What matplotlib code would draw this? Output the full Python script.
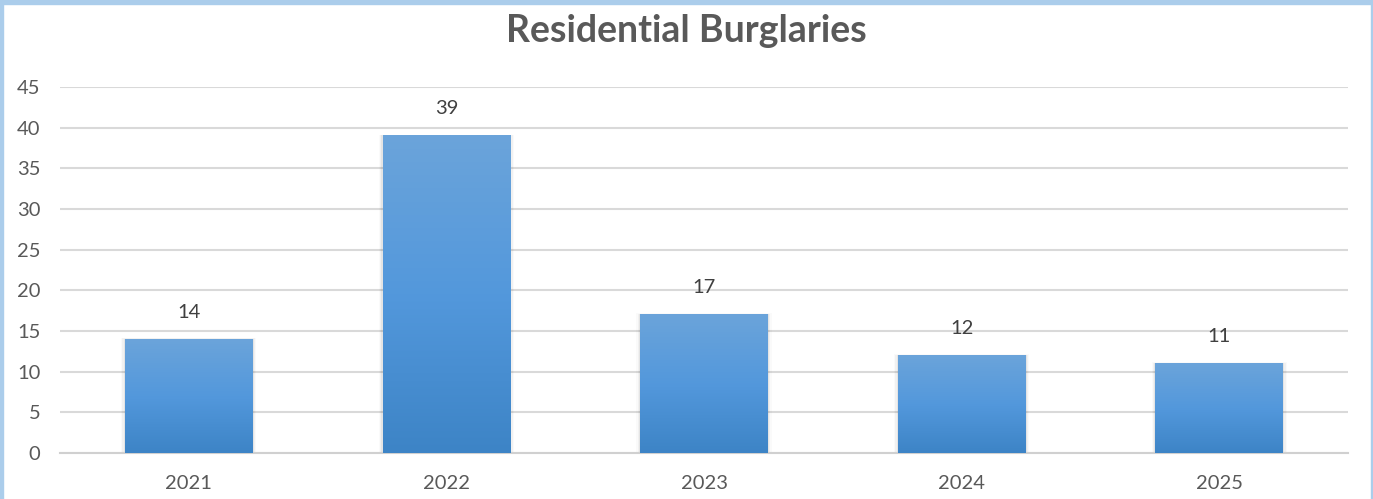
import matplotlib
matplotlib.use('Agg')
import matplotlib.pyplot as plt
import numpy as np
from matplotlib.patches import Rectangle
from matplotlib.colors import LinearSegmentedColormap

years = ['2021', '2022', '2023', '2024', '2025']
burglaries = [14, 39, 17, 12, 11]
yticks = [0, 5, 10, 15, 20, 25, 30, 35, 40, 45]

plt.rcParams['font.family'] = ['Lato', 'DejaVu Sans']

fig = plt.figure(figsize=(13.73, 4.99), dpi=100)
ax = fig.add_axes([0.0437, 0.0922, 0.9381, 0.7335])

# bars with vertical gradient like the excel default style
cmap = LinearSegmentedColormap.from_list('bar', ['#3d84c6', '#5398dc', '#6ba4da'])
grad = np.linspace(0, 1, 256).reshape(-1, 1)
width = 0.495
x = np.arange(len(years))
for xi, v in zip(x, burglaries):
    # soft shadow around the bar
    for k, a in enumerate([0.05, 0.035, 0.02]):
        d = 0.005 * (k + 1)
        ax.add_patch(Rectangle((xi - width / 2 - d, 0), width + 2 * d, v + d * 10,
                               facecolor='black', alpha=a, edgecolor='none', zorder=2))
    ax.imshow(grad, extent=[xi - width / 2, xi + width / 2, 0, v], origin='lower',
              aspect='auto', cmap=cmap, zorder=3)
    ax.annotate(str(v), (xi, v), xytext=(0, 19.5), textcoords='offset points',
                ha='center', va='center', fontsize=14.5, color='#404040')

ax.set_xlim(-0.5, len(years) - 0.5)
ax.set_ylim(0, 45)
ax.set_xticks(x)
ax.set_xticklabels(years)
ax.set_yticks(yticks)
ax.tick_params(length=0, labelsize=14.5, labelcolor='#595959')
ax.tick_params(axis='x', pad=16)
ax.tick_params(axis='y', pad=14)
ax.grid(axis='y', color='#d9d9d9', linewidth=1.5, zorder=0)
ax.set_axisbelow(True)
for s in ['top', 'right', 'left']:
    ax.spines[s].set_visible(False)
ax.spines['bottom'].set_color('#d0d0d0')
ax.spines['bottom'].set_linewidth(1.5)

fig.text(0.5, 1 - 42 / 499, 'Residential Burglaries', ha='center', va='baseline',
         fontsize=27, fontweight='bold', color='#595959')

# light blue frame (left, top, right)
frame = '#abcdeb'
fig.patches.append(Rectangle((0, 0), 3.5 / 1373, 1, transform=fig.transFigure, color=frame))
fig.patches.append(Rectangle((0, 1 - 3.5 / 499), 1, 3.5 / 499, transform=fig.transFigure, color=frame))
fig.patches.append(Rectangle((1 - 2.5 / 1373, 0), 2.5 / 1373, 1, transform=fig.transFigure, color=frame))

fig.savefig('out.png', dpi=100)
